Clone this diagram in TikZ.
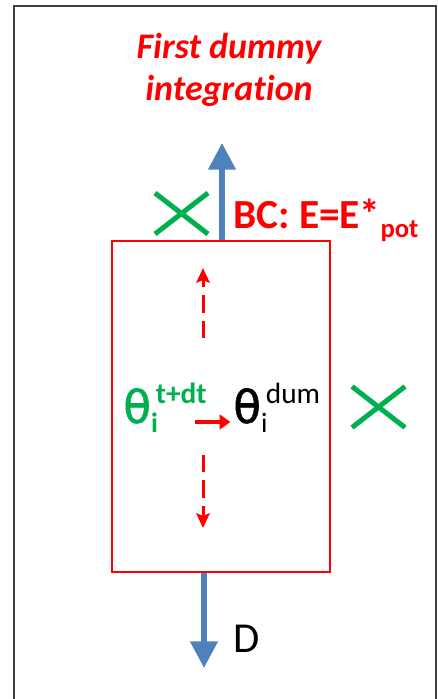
\documentclass[tikz,border=0pt]{standalone}
\usepackage{fontspec}
\setmainfont{Carlito}[Ligatures=NoCommon]
\newfontfamily\greekfont{DejaVu Sans}[FakeBold=1.2,AutoFakeBold=1.2]
\usetikzlibrary{arrows.meta,shapes.misc}
\definecolor{offgreen}{RGB}{0,176,80}
\definecolor{offblue}{RGB}{79,129,189}
\newcommand\thetaidx[2]{{\greekfont\bfseries\fontsize{34}{34}\selectfont θ}\rlap{\raisebox{-.2em}{\fontsize{21}{21}\selectfont #1}}\raisebox{.42em}{\fontsize{22}{22}\selectfont\,#2}}

\begin{document}
\begin{tikzpicture}[x=0.75pt,y=-0.75pt,
  flow/.style={offblue, line width=4pt, -{Triangle[length=20pt,width=20pt]}},
  swap/.style={red, line width=2.25pt, dash pattern=on 13pt off 6pt, -{Stealth[length=11pt,width=10pt,inset=2pt]}},
  wrong/.style={cross out, draw=offgreen, line width=3.75pt, minimum width=36pt, minimum height=27pt, inner sep=0pt}]
\useasboundingbox (0,0) rectangle (437,699);
\draw[black!75, line width=1.5pt] (14,699) -- (14,6.5) -- (435.5,6.5) -- (435.5,699);
\node[red, font=\fontsize{27}{32}\selectfont\bfseries\itshape, align=center] (title) at (229,70) {First dummy\\integration};
\node[draw=red, line width=1.9pt, minimum width=163.5pt, minimum height=248.25pt] (cell) at (221,406.5) {};
\coordinate (bctip) at (222,143);
\coordinate (dtip) at (204,668);
\draw[flow] (cell.north -| bctip) -- (bctip);
\draw[flow] (cell.south -| dtip) -- (dtip);
\node[red, font=\fontsize{31}{31}\selectfont\bfseries, anchor=base west, inner sep=0pt] (bc) at (233,228) {BC: E=E*\raisebox{-.24em}{\fontsize{20}{20}\selectfont pot}};
\node[font=\fontsize{32}{32}\selectfont, anchor=base west, inner sep=0pt] (dlabel) at (233,652) {D};
\node[wrong] (xtop) at (181.5,213.5) {};
\node[wrong] (xright) at (378.5,407) {};
\node[offgreen, font=\fontsize{35}{35}\selectfont, anchor=base west, inner sep=0pt] (thnew) at (123,423) {\thetaidx{\bfseries i}{\bfseries t+dt}};
\node[font=\fontsize{35}{35}\selectfont, anchor=base west, inner sep=0pt] (thdum) at (233,423) {\thetaidx{i}{dum}};
\coordinate (copy) at (195,422);
\draw[red, line width=2.5pt, shorten >=2pt, -{Triangle[length=8pt,width=11pt]}] (copy) -- (thdum.west |- copy);
\coordinate (upfrom) at (203,338);
\coordinate (upto) at (203,268);
\coordinate (downfrom) at (203,455);
\coordinate (downto) at (203,528);
\draw[swap] (upfrom) -- (upto);
\draw[swap] (downfrom) -- (downto);
\end{tikzpicture}
\end{document}
